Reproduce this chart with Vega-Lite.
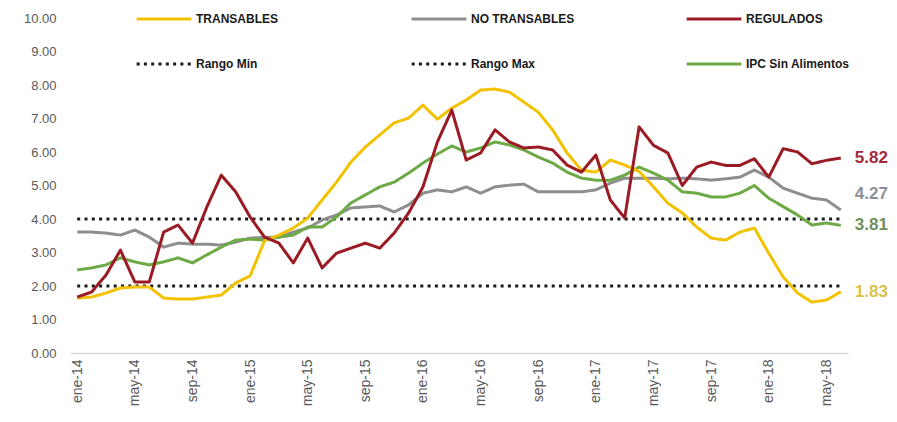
{
  "$schema": "https://vega.github.io/schema/vega-lite/v6.json",
  "width": 778,
  "height": 335,
  "autosize": {"type": "none"},
  "padding": {"left": 70, "top": 18, "right": 49, "bottom": 69},
  "background": "white",
  "config": {"view": {"stroke": null}, "font": "Liberation Sans"},
  "data": {"values": [
    {"mes": "ene-14", "TRANSABLES": 1.64, "NO TRANSABLES": 3.61, "REGULADOS": 1.67, "IPC Sin Alimentos": 2.48, "Rango Min": 2, "Rango Max": 4},
    {"mes": "feb-14", "TRANSABLES": 1.67, "NO TRANSABLES": 3.61, "REGULADOS": 1.82, "IPC Sin Alimentos": 2.54, "Rango Min": 2, "Rango Max": 4},
    {"mes": "mar-14", "TRANSABLES": 1.79, "NO TRANSABLES": 3.58, "REGULADOS": 2.33, "IPC Sin Alimentos": 2.63, "Rango Min": 2, "Rango Max": 4},
    {"mes": "abr-14", "TRANSABLES": 1.94, "NO TRANSABLES": 3.52, "REGULADOS": 3.07, "IPC Sin Alimentos": 2.84, "Rango Min": 2, "Rango Max": 4},
    {"mes": "may-14", "TRANSABLES": 1.97, "NO TRANSABLES": 3.67, "REGULADOS": 2.12, "IPC Sin Alimentos": 2.72, "Rango Min": 2, "Rango Max": 4},
    {"mes": "jun-14", "TRANSABLES": 1.97, "NO TRANSABLES": 3.46, "REGULADOS": 2.12, "IPC Sin Alimentos": 2.63, "Rango Min": 2, "Rango Max": 4},
    {"mes": "jul-14", "TRANSABLES": 1.64, "NO TRANSABLES": 3.16, "REGULADOS": 3.61, "IPC Sin Alimentos": 2.72, "Rango Min": 2, "Rango Max": 4},
    {"mes": "ago-14", "TRANSABLES": 1.61, "NO TRANSABLES": 3.28, "REGULADOS": 3.82, "IPC Sin Alimentos": 2.84, "Rango Min": 2, "Rango Max": 4},
    {"mes": "sep-14", "TRANSABLES": 1.61, "NO TRANSABLES": 3.25, "REGULADOS": 3.28, "IPC Sin Alimentos": 2.69, "Rango Min": 2, "Rango Max": 4},
    {"mes": "oct-14", "TRANSABLES": 1.67, "NO TRANSABLES": 3.25, "REGULADOS": 4.36, "IPC Sin Alimentos": 2.93, "Rango Min": 2, "Rango Max": 4},
    {"mes": "nov-14", "TRANSABLES": 1.73, "NO TRANSABLES": 3.22, "REGULADOS": 5.31, "IPC Sin Alimentos": 3.16, "Rango Min": 2, "Rango Max": 4},
    {"mes": "dic-14", "TRANSABLES": 2.09, "NO TRANSABLES": 3.31, "REGULADOS": 4.81, "IPC Sin Alimentos": 3.37, "Rango Min": 2, "Rango Max": 4},
    {"mes": "ene-15", "TRANSABLES": 2.30, "NO TRANSABLES": 3.43, "REGULADOS": 4.06, "IPC Sin Alimentos": 3.40, "Rango Min": 2, "Rango Max": 4},
    {"mes": "feb-15", "TRANSABLES": 3.35, "NO TRANSABLES": 3.45, "REGULADOS": 3.46, "IPC Sin Alimentos": 3.37, "Rango Min": 2, "Rango Max": 4},
    {"mes": "mar-15", "TRANSABLES": 3.52, "NO TRANSABLES": 3.46, "REGULADOS": 3.28, "IPC Sin Alimentos": 3.46, "Rango Min": 2, "Rango Max": 4},
    {"mes": "abr-15", "TRANSABLES": 3.73, "NO TRANSABLES": 3.61, "REGULADOS": 2.69, "IPC Sin Alimentos": 3.52, "Rango Min": 2, "Rango Max": 4},
    {"mes": "may-15", "TRANSABLES": 4.03, "NO TRANSABLES": 3.73, "REGULADOS": 3.43, "IPC Sin Alimentos": 3.76, "Rango Min": 2, "Rango Max": 4},
    {"mes": "jun-15", "TRANSABLES": 4.57, "NO TRANSABLES": 3.97, "REGULADOS": 2.54, "IPC Sin Alimentos": 3.76, "Rango Min": 2, "Rango Max": 4},
    {"mes": "jul-15", "TRANSABLES": 5.10, "NO TRANSABLES": 4.12, "REGULADOS": 2.98, "IPC Sin Alimentos": 4.06, "Rango Min": 2, "Rango Max": 4},
    {"mes": "ago-15", "TRANSABLES": 5.70, "NO TRANSABLES": 4.33, "REGULADOS": 3.13, "IPC Sin Alimentos": 4.48, "Rango Min": 2, "Rango Max": 4},
    {"mes": "sep-15", "TRANSABLES": 6.15, "NO TRANSABLES": 4.36, "REGULADOS": 3.28, "IPC Sin Alimentos": 4.72, "Rango Min": 2, "Rango Max": 4},
    {"mes": "oct-15", "TRANSABLES": 6.51, "NO TRANSABLES": 4.39, "REGULADOS": 3.13, "IPC Sin Alimentos": 4.96, "Rango Min": 2, "Rango Max": 4},
    {"mes": "nov-15", "TRANSABLES": 6.87, "NO TRANSABLES": 4.21, "REGULADOS": 3.58, "IPC Sin Alimentos": 5.10, "Rango Min": 2, "Rango Max": 4},
    {"mes": "dic-15", "TRANSABLES": 7.01, "NO TRANSABLES": 4.42, "REGULADOS": 4.18, "IPC Sin Alimentos": 5.37, "Rango Min": 2, "Rango Max": 4},
    {"mes": "ene-16", "TRANSABLES": 7.40, "NO TRANSABLES": 4.77, "REGULADOS": 4.96, "IPC Sin Alimentos": 5.67, "Rango Min": 2, "Rango Max": 4},
    {"mes": "feb-16", "TRANSABLES": 6.98, "NO TRANSABLES": 4.87, "REGULADOS": 6.30, "IPC Sin Alimentos": 5.94, "Rango Min": 2, "Rango Max": 4},
    {"mes": "mar-16", "TRANSABLES": 7.31, "NO TRANSABLES": 4.81, "REGULADOS": 7.25, "IPC Sin Alimentos": 6.18, "Rango Min": 2, "Rango Max": 4},
    {"mes": "abr-16", "TRANSABLES": 7.55, "NO TRANSABLES": 4.96, "REGULADOS": 5.76, "IPC Sin Alimentos": 6.00, "Rango Min": 2, "Rango Max": 4},
    {"mes": "may-16", "TRANSABLES": 7.85, "NO TRANSABLES": 4.77, "REGULADOS": 5.97, "IPC Sin Alimentos": 6.12, "Rango Min": 2, "Rango Max": 4},
    {"mes": "jun-16", "TRANSABLES": 7.88, "NO TRANSABLES": 4.96, "REGULADOS": 6.66, "IPC Sin Alimentos": 6.30, "Rango Min": 2, "Rango Max": 4},
    {"mes": "jul-16", "TRANSABLES": 7.79, "NO TRANSABLES": 5.01, "REGULADOS": 6.30, "IPC Sin Alimentos": 6.21, "Rango Min": 2, "Rango Max": 4},
    {"mes": "ago-16", "TRANSABLES": 7.49, "NO TRANSABLES": 5.04, "REGULADOS": 6.12, "IPC Sin Alimentos": 6.06, "Rango Min": 2, "Rango Max": 4},
    {"mes": "sep-16", "TRANSABLES": 7.19, "NO TRANSABLES": 4.81, "REGULADOS": 6.15, "IPC Sin Alimentos": 5.85, "Rango Min": 2, "Rango Max": 4},
    {"mes": "oct-16", "TRANSABLES": 6.66, "NO TRANSABLES": 4.81, "REGULADOS": 6.06, "IPC Sin Alimentos": 5.67, "Rango Min": 2, "Rango Max": 4},
    {"mes": "nov-16", "TRANSABLES": 5.97, "NO TRANSABLES": 4.81, "REGULADOS": 5.61, "IPC Sin Alimentos": 5.40, "Rango Min": 2, "Rango Max": 4},
    {"mes": "dic-16", "TRANSABLES": 5.46, "NO TRANSABLES": 4.81, "REGULADOS": 5.40, "IPC Sin Alimentos": 5.22, "Rango Min": 2, "Rango Max": 4},
    {"mes": "ene-17", "TRANSABLES": 5.40, "NO TRANSABLES": 4.87, "REGULADOS": 5.91, "IPC Sin Alimentos": 5.16, "Rango Min": 2, "Rango Max": 4},
    {"mes": "feb-17", "TRANSABLES": 5.76, "NO TRANSABLES": 5.07, "REGULADOS": 4.57, "IPC Sin Alimentos": 5.16, "Rango Min": 2, "Rango Max": 4},
    {"mes": "mar-17", "TRANSABLES": 5.61, "NO TRANSABLES": 5.22, "REGULADOS": 4.03, "IPC Sin Alimentos": 5.31, "Rango Min": 2, "Rango Max": 4},
    {"mes": "abr-17", "TRANSABLES": 5.42, "NO TRANSABLES": 5.22, "REGULADOS": 6.75, "IPC Sin Alimentos": 5.55, "Rango Min": 2, "Rango Max": 4},
    {"mes": "may-17", "TRANSABLES": 4.96, "NO TRANSABLES": 5.22, "REGULADOS": 6.20, "IPC Sin Alimentos": 5.37, "Rango Min": 2, "Rango Max": 4},
    {"mes": "jun-17", "TRANSABLES": 4.47, "NO TRANSABLES": 5.20, "REGULADOS": 5.97, "IPC Sin Alimentos": 5.16, "Rango Min": 2, "Rango Max": 4},
    {"mes": "jul-17", "TRANSABLES": 4.18, "NO TRANSABLES": 5.22, "REGULADOS": 5.00, "IPC Sin Alimentos": 4.81, "Rango Min": 2, "Rango Max": 4},
    {"mes": "ago-17", "TRANSABLES": 3.76, "NO TRANSABLES": 5.20, "REGULADOS": 5.55, "IPC Sin Alimentos": 4.77, "Rango Min": 2, "Rango Max": 4},
    {"mes": "sep-17", "TRANSABLES": 3.43, "NO TRANSABLES": 5.16, "REGULADOS": 5.70, "IPC Sin Alimentos": 4.66, "Rango Min": 2, "Rango Max": 4},
    {"mes": "oct-17", "TRANSABLES": 3.37, "NO TRANSABLES": 5.20, "REGULADOS": 5.60, "IPC Sin Alimentos": 4.66, "Rango Min": 2, "Rango Max": 4},
    {"mes": "nov-17", "TRANSABLES": 3.61, "NO TRANSABLES": 5.25, "REGULADOS": 5.60, "IPC Sin Alimentos": 4.77, "Rango Min": 2, "Rango Max": 4},
    {"mes": "dic-17", "TRANSABLES": 3.73, "NO TRANSABLES": 5.46, "REGULADOS": 5.80, "IPC Sin Alimentos": 5.00, "Rango Min": 2, "Rango Max": 4},
    {"mes": "ene-18", "TRANSABLES": 2.98, "NO TRANSABLES": 5.25, "REGULADOS": 5.25, "IPC Sin Alimentos": 4.62, "Rango Min": 2, "Rango Max": 4},
    {"mes": "feb-18", "TRANSABLES": 2.27, "NO TRANSABLES": 4.92, "REGULADOS": 6.10, "IPC Sin Alimentos": 4.37, "Rango Min": 2, "Rango Max": 4},
    {"mes": "mar-18", "TRANSABLES": 1.79, "NO TRANSABLES": 4.77, "REGULADOS": 6.00, "IPC Sin Alimentos": 4.12, "Rango Min": 2, "Rango Max": 4},
    {"mes": "abr-18", "TRANSABLES": 1.52, "NO TRANSABLES": 4.62, "REGULADOS": 5.65, "IPC Sin Alimentos": 3.82, "Rango Min": 2, "Rango Max": 4},
    {"mes": "may-18", "TRANSABLES": 1.58, "NO TRANSABLES": 4.57, "REGULADOS": 5.75, "IPC Sin Alimentos": 3.88, "Rango Min": 2, "Rango Max": 4},
    {"mes": "jun-18", "TRANSABLES": 1.83, "NO TRANSABLES": 4.27, "REGULADOS": 5.82, "IPC Sin Alimentos": 3.81, "Rango Min": 2, "Rango Max": 4}
  ]},
  "transform": [
    {"fold": ["Rango Min", "Rango Max", "NO TRANSABLES", "IPC Sin Alimentos", "TRANSABLES", "REGULADOS"], "as": ["serie", "valor"]}
  ],
  "encoding": {
    "x": {
      "field": "mes", "type": "ordinal", "sort": null,
      "scale": {"padding": 0.5},
      "axis": {
        "title": null, "labelAngle": 270, "labelAlign": "right", "labelBaseline": "middle",
        "labelExpr": "indexof(['ene','may','sep'], substring(datum.value,0,3)) >= 0 ? datum.value : ''",
        "labelFontSize": 14, "labelColor": "#595959", "labelFont": "Liberation Sans Narrow, Liberation Sans, sans-serif",
        "ticks": false, "labelPadding": 6, "domainColor": "#d9d9d9", "domainWidth": 1.5, "grid": false
      }
    },
    "y": {
      "field": "valor", "type": "quantitative",
      "scale": {"domain": [0, 10], "nice": false},
      "axis": {
        "title": null, "values": [0,1,2,3,4,5,6,7,8,9,10], "format": ".2f",
        "labelFontSize": 13, "labelColor": "#595959", "labelFont": "Liberation Sans, sans-serif",
        "ticks": false, "domain": false, "grid": false, "labelPadding": 14
      }
    }
  },
  "layer": [
    {
      "mark": {"type": "line", "strokeWidth": 3, "strokeJoin": "round"},
      "encoding": {
        "color": {
          "field": "serie", "type": "nominal",
          "scale": {
            "domain": ["TRANSABLES", "NO TRANSABLES", "REGULADOS", "Rango Min", "Rango Max", "IPC Sin Alimentos"],
            "range": ["#F2C200", "#8E8E8E", "#9B1B24", "#1a1a1a", "#1a1a1a", "#6DAA45"]
          },
          "legend": {
            "title": null, "orient": "none", "direction": "horizontal", "legendX": 65, "legendY": -28,
            "columns": 3, "gridAlign": "all", "columnPadding": 105, "rowPadding": 10,
            "symbolType": "stroke", "symbolSize": 3000, "symbolStrokeWidth": 3,
            "labelFontSize": 12, "labelFontWeight": "bold", "labelColor": "#1a1a1a",
            "labelFont": "Liberation Sans Narrow, Liberation Sans, sans-serif", "labelOffset": 3, "labelLimit": 200
          }
        },
        "strokeDash": {
          "field": "serie", "type": "nominal",
          "scale": {
            "domain": ["TRANSABLES", "NO TRANSABLES", "REGULADOS", "Rango Min", "Rango Max", "IPC Sin Alimentos"],
            "range": [[1, 0], [1, 0], [1, 0], [3, 4.3], [3, 4.3], [1, 0]]
          },
          "legend": {
            "title": null, "orient": "none", "direction": "horizontal", "legendX": 65, "legendY": -28,
            "columns": 3, "gridAlign": "all", "columnPadding": 105, "rowPadding": 10,
            "symbolType": "stroke", "symbolSize": 3000, "symbolStrokeWidth": 3,
            "labelFontSize": 12, "labelFontWeight": "bold", "labelColor": "#1a1a1a",
            "labelFont": "Liberation Sans Narrow, Liberation Sans, sans-serif", "labelOffset": 3, "labelLimit": 200
          }
        }
      }
    },
    {
      "transform": [{"filter": "datum.mes == 'jun-18' && (datum.serie == 'REGULADOS' || datum.serie == 'IPC Sin Alimentos' || datum.serie == 'TRANSABLES')"}],
      "mark": {"type": "text", "align": "left", "baseline": "middle", "dx": 14, "fontSize": 17, "fontWeight": "bold", "font": "Liberation Sans, sans-serif"},
      "encoding": {
        "text": {"field": "valor", "type": "quantitative", "format": ".2f"},
        "color": {
          "condition": [
            {"test": "datum.serie == 'REGULADOS'", "value": "#A3283A"},
            {"test": "datum.serie == 'IPC Sin Alimentos'", "value": "#6F8F5E"}
          ],
          "value": "#D8C24A"
        }
      }
    },
    {
      "transform": [{"filter": "datum.mes == 'jun-18' && datum.serie == 'NO TRANSABLES'"}],
      "mark": {"type": "text", "align": "left", "baseline": "middle", "dx": 14, "dy": -16, "fontSize": 17, "fontWeight": "bold", "font": "Liberation Sans, sans-serif", "color": "#8A9099"},
      "encoding": {
        "text": {"field": "valor", "type": "quantitative", "format": ".2f"}
      }
    }
  ]
}
